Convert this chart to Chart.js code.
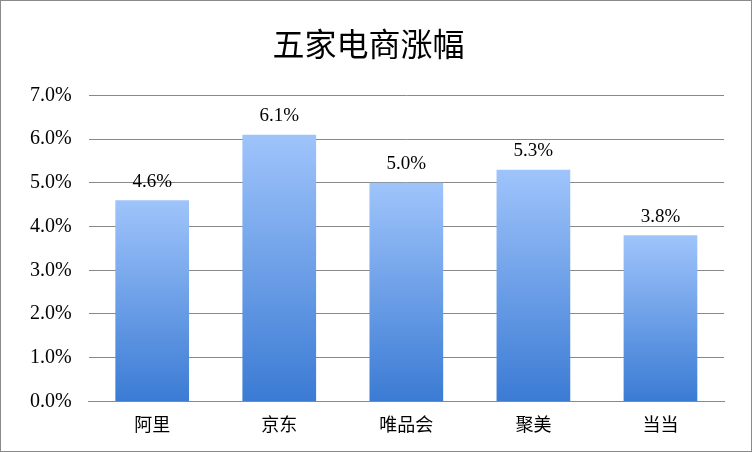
<!DOCTYPE html>
<html><head><meta charset="utf-8">
<script src="https://cdn.jsdelivr.net/npm/chart.js@4/dist/chart.umd.min.js"></script>
<style>html,body{margin:0;padding:0;background:#fff}#w{width:750px;height:450px;border:1px solid #8a8a8a;position:relative}</style>
</head><body><div id="w"><canvas id="c"></canvas></div>
<script>
const categories=["阿里","京东","唯品会","聚美","当当"];
const values=[4.6,6.1,5.0,5.3,3.8];
const tickMax=7;
const labelPlugin={id:"lbl",afterDatasetsDraw(chart){const ctx=chart.ctx;const meta=chart.getDatasetMeta(0);ctx.save();ctx.font="19px 'Liberation Serif'";ctx.fillStyle="#000";ctx.textAlign="center";ctx.textBaseline="bottom";meta.data.forEach((b,i)=>{ctx.fillText(values[i].toFixed(1)+"%",b.x,b.y-9);});ctx.restore();}};
new Chart(document.getElementById("c"),{type:"bar",
data:{labels:categories,datasets:[{data:values,barPercentage:0.58,categoryPercentage:1,
backgroundColor(c){const ch=c.chart;const a=ch.chartArea;if(!a)return"#6a9fe8";const y=ch.scales.y;const top=y.getPixelForValue(values[c.dataIndex]);const g=ch.ctx.createLinearGradient(0,top,0,a.bottom);g.addColorStop(0,"#9fc4fb");g.addColorStop(1,"#3b7bd4");return g;}}]},
options:{responsive:true,maintainAspectRatio:false,animation:false,
layout:{padding:{left:12,right:27,top:14,bottom:12}},
plugins:{legend:{display:false},tooltip:{enabled:false},
title:{display:true,text:"五家电商涨幅",font:{size:32,family:"'Noto Sans CJK SC'",weight:"normal"},color:"#000",padding:{top:10,bottom:32}}},
scales:{x:{grid:{display:false},border:{color:"#888"},ticks:{color:"#000",font:{size:18,family:"'Noto Sans CJK SC'"},padding:4}},
y:{min:0,max:tickMax,ticks:{stepSize:1,color:"#000",font:{size:20,family:"'Liberation Serif'"},callback:v=>v.toFixed(1)+"%",padding:17},grid:{color:"#888",drawTicks:false},border:{display:false}}}},
plugins:[labelPlugin]});
</script></body></html>
